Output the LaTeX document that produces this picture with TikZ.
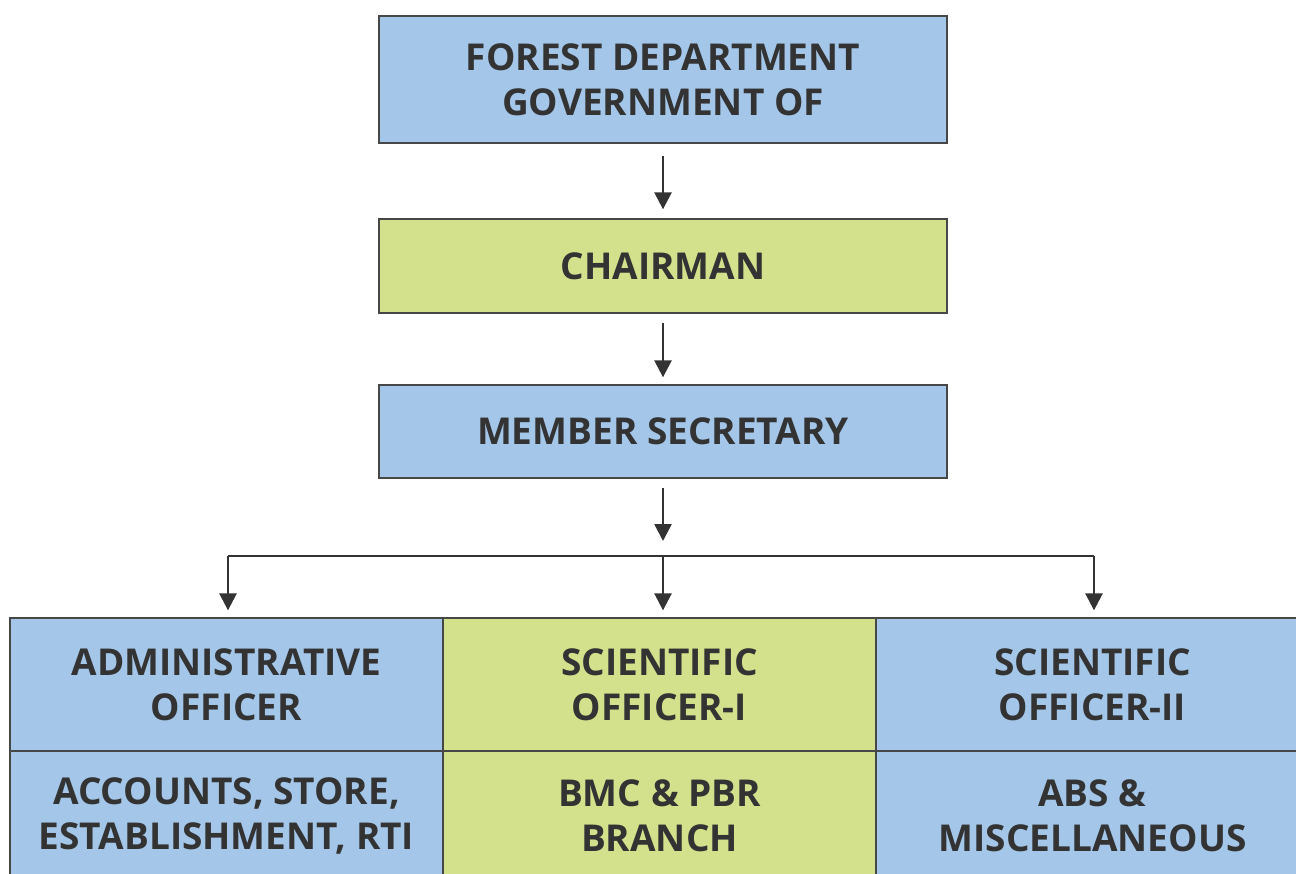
\documentclass[tikz,border=0pt]{standalone}
\usepackage{fontspec}
\setmainfont{Open Sans}
\usetikzlibrary{arrows.meta,calc}

\definecolor{boxblue}{HTML}{A4C6E8}
\definecolor{boxgreen}{HTML}{D3E18C}
\definecolor{inkgrey}{HTML}{333333}

\tikzset{
  post/.style={draw=inkgrey!90,line width=1.3pt,fill=boxblue,inner sep=0pt,
    text=inkgrey,align=center,
    font=\fontsize{37}{45}\selectfont\bfseries},
  bluepost/.style={post,fill=boxblue},
  greenpost/.style={post,fill=boxgreen},
  link/.style={draw=inkgrey,line width=2.6pt,
    -{Triangle[width=17pt,length=17pt]}},
}

\begin{document}
\begin{tikzpicture}[x=1pt,y=-1pt]

\clip (0,0) rectangle (1296,874);
\fill[white] (0,0) rectangle (1296,874);

% top chain
\node[bluepost,minimum width=568pt,minimum height=127pt] (forest) at (663,79.5)
  {FOREST DEPARTMENT\\GOVERNMENT OF};
\node[greenpost,minimum width=568pt,minimum height=94pt] (chairman) at (663,266)
  {CHAIRMAN};
\node[bluepost,minimum width=568pt,minimum height=93pt] (secretary) at (663,431.5)
  {MEMBER SECRETARY};

% officers
\node[bluepost,minimum width=433pt,minimum height=133pt] (admin) at (226.5,684.5)
  {ADMINISTRATIVE\\OFFICER};
\node[greenpost,minimum width=433pt,minimum height=133pt] (sciA) at (659.5,684.5)
  {SCIENTIFIC\\OFFICER-I};
\node[bluepost,minimum width=433pt,minimum height=133pt] (sciB) at (1092.5,684.5)
  {SCIENTIFIC\\OFFICER-II};

% branches
\node[bluepost,minimum width=433pt,minimum height=129pt] (accounts) at (226.5,815.5)
  {ACCOUNTS, STORE,\\ESTABLISHMENT, RTI};
\node[greenpost,minimum width=433pt,minimum height=129pt] (bmc) at (659.5,815.5)
  {BMC \& PBR\\BRANCH};
\node[bluepost,minimum width=433pt,minimum height=129pt] (abs) at (1092.5,815.5)
  {ABS \&\\MISCELLANEOUS};

\coordinate (split) at (663,556);
\coordinate (splitL) at (228,556);
\coordinate (splitR) at (1094,556);

\draw[link,shorten <=12pt,shorten >=9pt] (forest) -- (chairman);
\draw[link,shorten <=9pt,shorten >=7pt] (chairman) -- (secretary);
\draw[link,shorten <=9pt,shorten >=15pt] (secretary) -- (split);
\draw[draw=inkgrey,line width=2.6pt] (splitL) -- (splitR);
\draw[link,shorten >=7pt] (splitL) -- (splitL |- admin.north);
\draw[link,shorten >=7pt] (split) -- (split |- sciA.north);
\draw[link,shorten >=7pt] (splitR) -- (splitR |- sciB.north);

\end{tikzpicture}
\end{document}
